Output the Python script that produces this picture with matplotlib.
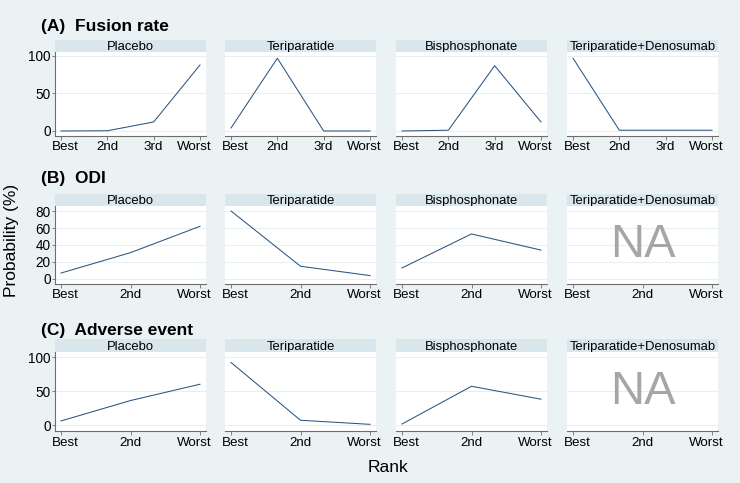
import matplotlib
matplotlib.use('Agg')

import matplotlib.pyplot as plt
import matplotlib.transforms as mtransforms
import numpy as np

plt.rcParams['font.family'] = ['Liberation Sans', 'DejaVu Sans']

treatments = ["Placebo", "Teriparatide", "Bisphosphonate", "Teriparatide+Denosumab"]

# (A) Fusion rate, four ranks
fusion_ranks = ["Best", "2nd", "3rd", "Worst"]
fusion_placebo = [0, 0.3, 12, 88]
fusion_teri = [4, 97, 0, 0]
fusion_bisph = [0, 1, 87, 12]
fusion_teri_deno = [97, 1, 1, 1]

# (B) ODI, three ranks (no data for Teriparatide+Denosumab)
odi_ranks = ["Best", "2nd", "Worst"]
odi_placebo = [7, 31, 62]
odi_teri = [80, 15, 4]
odi_bisph = [13, 53, 34]
odi_teri_deno = None

# (C) Adverse event, three ranks
ae_ranks = ["Best", "2nd", "Worst"]
ae_placebo = [6, 36, 60]
ae_teri = [92, 7, 1]
ae_bisph = [1.5, 57, 38]
ae_teri_deno = None

rows = [
    ("(A)  Fusion rate", fusion_ranks,
     [fusion_placebo, fusion_teri, fusion_bisph, fusion_teri_deno], [0, 50, 100]),
    ("(B)  ODI", odi_ranks,
     [odi_placebo, odi_teri, odi_bisph, odi_teri_deno], [0, 20, 40, 60, 80]),
    ("(C)  Adverse event", ae_ranks,
     [ae_placebo, ae_teri, ae_bisph, ae_teri_deno], [0, 50, 100]),
]

W, H = 740, 483
bg = '#EAF2F3'
strip_col = '#D9E6EB'
line_col = '#2b5580'
axis_col = '#6e6e6e'

# pixel layout: (title y, strip top, plot top, plot bottom, ylim)
row_px = [
    (26, 40, 52, 136, (-6.7, 105.3)),
    (179, 194, 206, 284, (-5.9, 85.9)),
    (330, 339, 352, 431, (-8.8, 107.4)),
]
col_left = [55, 225, 396, 567]
col_w = 151

def fig_rect(x, ytop, w, h):
    return [x / W, 1 - (ytop + h) / H, w / W, h / H]

fig = plt.figure(figsize=(7.4, 4.83), dpi=100, facecolor=bg)

for (title, ranks, series, yticks), (ty, st, pt, pb, ylim) in zip(rows, row_px):
    fig.text(41 / W, 1 - ty / H, title, fontsize=12.5, fontweight='bold',
             ha='left', va='center')
    for c, (name, vals) in enumerate(zip(treatments, series)):
        # strip with panel name
        sax = fig.add_axes(fig_rect(col_left[c], st, col_w, pt - st))
        sax.set_facecolor(strip_col)
        sax.set_xticks([])
        sax.set_yticks([])
        for s in sax.spines.values():
            s.set_visible(False)
        sax.text(0.5, 0.42, name, fontsize=9.4, ha='center', va='center',
                 transform=sax.transAxes)

        ax = fig.add_axes(fig_rect(col_left[c], pt, col_w, pb - pt))
        ax.set_facecolor('white')
        x = np.arange(len(ranks))
        if vals is not None:
            ax.plot(x, vals, color=line_col, lw=0.75)
        else:
            ax.text(0.5, 0.5, "NA", fontsize=34, color='#A6A6A6',
                    ha='center', va='center', transform=ax.transAxes)
        pad = 0.13 * (len(ranks) - 1) / 3
        ax.set_xlim(-pad, len(ranks) - 1 + pad)
        ax.set_ylim(*ylim)
        ax.set_xticks(x)
        ax.set_xticklabels([])
        # rank labels drawn by hand, end labels nudged inward like the original
        for i, r in enumerate(ranks):
            dx = 0
            if i == 0:
                dx = 4.5
            elif i == len(ranks) - 1:
                dx = -6
            tr = mtransforms.offset_copy(ax.get_xaxis_transform(), fig=fig,
                                         x=dx * 0.72, y=-5.5 * 0.72, units='points')
            ax.text(i, 0, r, fontsize=9.6, ha='center', va='top', transform=tr)
        ax.set_yticks(yticks)
        ax.grid(axis='y', color='#E8EFF2', lw=0.8)
        ax.set_axisbelow(True)
        ax.tick_params(axis='x', length=3, width=0.6, color=axis_col, pad=2)
        for s in ['top', 'right']:
            ax.spines[s].set_visible(False)
        ax.spines['bottom'].set_color(axis_col)
        ax.spines['bottom'].set_linewidth(0.8)
        if c == 0:
            ax.spines['left'].set_color(axis_col)
            ax.spines['left'].set_linewidth(0.8)
            ax.tick_params(axis='y', length=2.5, width=0.6, color=axis_col,
                           pad=0.5, labelsize=9.8)
        else:
            ax.spines['left'].set_visible(False)
            ax.tick_params(axis='y', length=0, labelleft=False)

fig.text(12 / W, 1 - 240 / H, "Probability (%)", fontsize=12.5,
         rotation=90, ha='center', va='center')
fig.text(388 / W, 1 - 468 / H, "Rank", fontsize=12.5, ha='center', va='center')

fig.savefig('out.png', dpi=100, facecolor=bg)
